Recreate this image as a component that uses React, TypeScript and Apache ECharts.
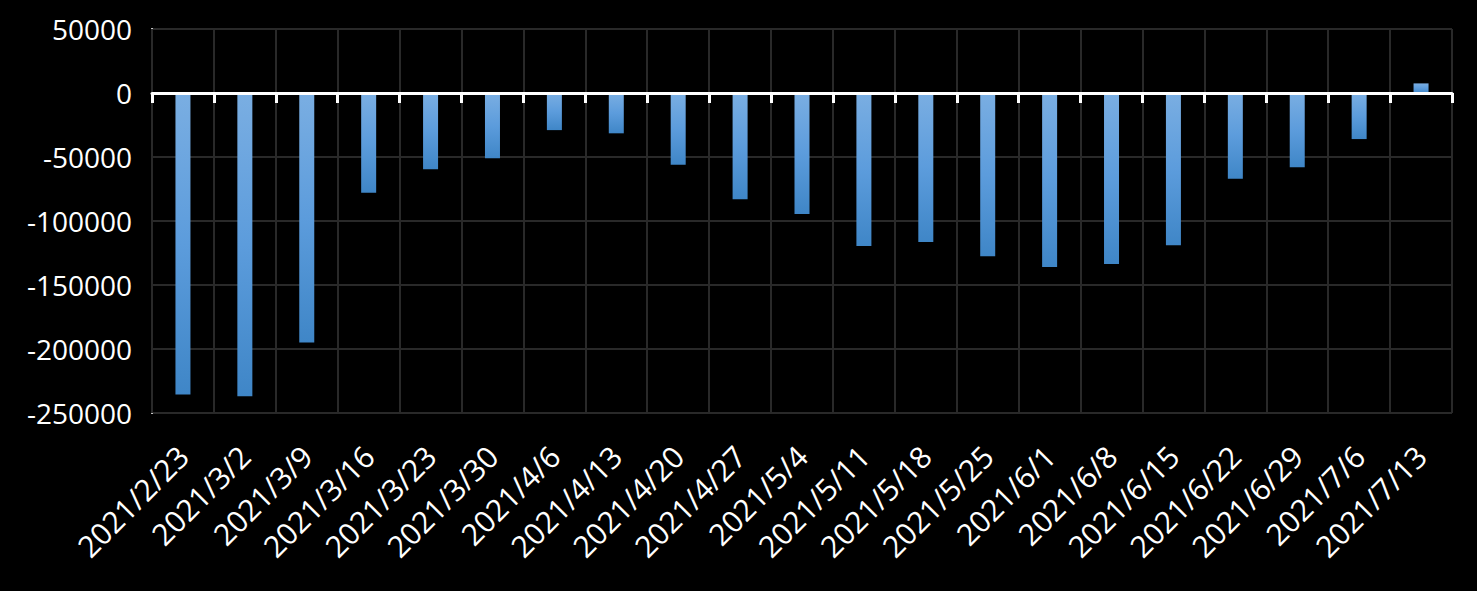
import React, { useEffect, useRef } from "react";
import * as echarts from "echarts";

const categories = [
  "2021/2/23", "2021/3/2", "2021/3/9", "2021/3/16", "2021/3/23", "2021/3/30",
  "2021/4/6", "2021/4/13", "2021/4/20", "2021/4/27", "2021/5/4", "2021/5/11",
  "2021/5/18", "2021/5/25", "2021/6/1", "2021/6/8", "2021/6/15", "2021/6/22",
  "2021/6/29", "2021/7/6", "2021/7/13",
];

const values = [
  -235500, -237000, -195000, -78000, -59500, -51000,
  -29000, -31500, -56000, -83000, -94500, -119500,
  -116500, -127500, -136000, -133500, -119000, -67000,
  -58000, -36000, 7500,
];

const yMin = -250000;
const yMax = 50000;
const yInterval = 50000;

export default function App() {
  const ref = useRef<HTMLDivElement>(null);
  useEffect(() => {
    if (!ref.current) return;
    const chart = echarts.init(ref.current, undefined, { renderer: "svg" });
    const font = "'Open Sans', 'Noto Sans', sans-serif";
    chart.setOption({
      animation: false,
      backgroundColor: "#000000",
      grid: { left: 152, right: 25, top: 29, bottom: 178, containLabel: false },
      xAxis: [
        {
          type: "category",
          data: categories,
          position: "bottom",
          axisLine: { onZero: true, lineStyle: { color: "#ffffff", width: 3 } },
          axisTick: { show: true, interval: 0, length: 10, lineStyle: { color: "#ffffff", width: 3 } },
          axisLabel: { show: false, interval: 0 },
          splitLine: { show: true, interval: 0, lineStyle: { color: "#292929", width: 2 } },
          z: 5,
        },
        {
          type: "category",
          data: categories,
          position: "bottom",
          axisLine: { show: false, onZero: false },
          axisTick: { show: false },
          splitLine: { show: false },
          axisLabel: {
            show: true,
            interval: 0,
            rotate: 45,
            color: "#ffffff",
            fontSize: 30,
            fontFamily: font,
            margin: 38,
          },
        },
      ],
      yAxis: {
        type: "value",
        min: yMin,
        max: yMax,
        interval: yInterval,
        axisLine: { show: true, lineStyle: { color: "#ffffff", width: 2 } },
        axisTick: { show: false },
        splitLine: { show: true, lineStyle: { color: "#292929", width: 2 } },
        axisLabel: {
          color: "#ffffff",
          fontSize: 28,
          fontFamily: font,
          margin: 20,
          formatter: (v: number) => String(v),
        },
      },
      series: [
        {
          type: "bar",
          xAxisIndex: 0,
          data: values,
          barWidth: 15,
          itemStyle: {
            color: new echarts.graphic.LinearGradient(0, 0, 0, 1, [
              { offset: 0, color: "#7aaee2" },
              { offset: 0.5, color: "#5c9cdc" },
              { offset: 1, color: "#3f86c7" },
            ]),
          },
        },
      ],
    });
    return () => chart.dispose();
  }, []);
  return (
    <div
      ref={ref}
      style={{ position: "absolute", left: 0, top: 0, width: 1477, height: 591 }}
    />
  );
}
